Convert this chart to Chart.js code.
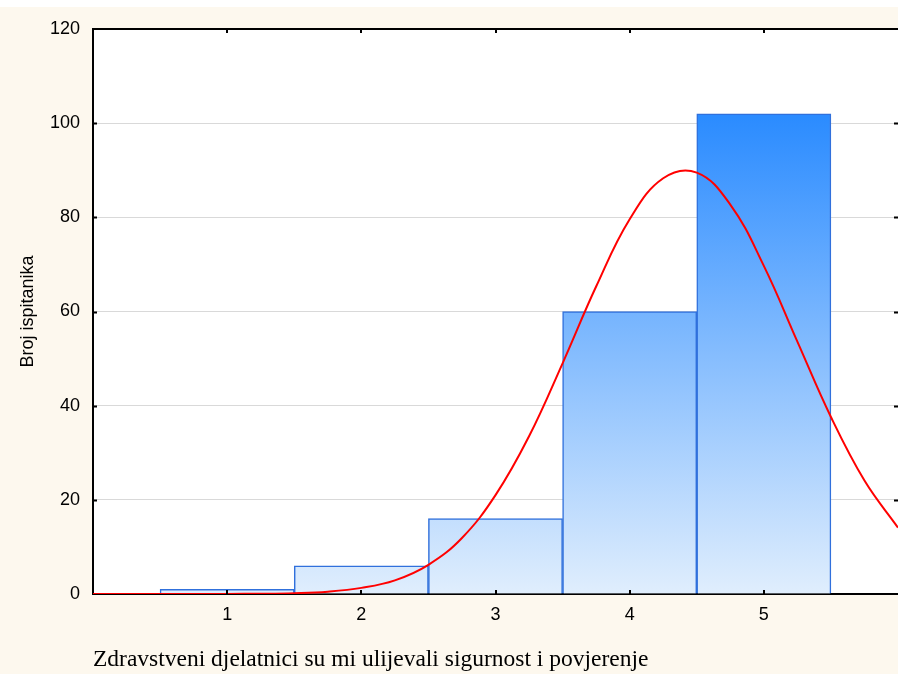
<!DOCTYPE html>
<html>
<head>
<meta charset="utf-8">
<script src="https://cdn.jsdelivr.net/npm/chart.js@4/dist/chart.umd.min.js"></script>
<style>
html,body{margin:0;padding:0;background:#fff;}
#wrap{width:898px;height:674px;}
</style>
</head>
<body>
<div id="wrap"><canvas id="c" width="898" height="674"></canvas></div>
<script>
// Histogram categories (rating values) and counts
const categories = [1, 2, 3, 4, 5];
const counts = [1, 6, 16, 60, 102];
// Fitted normal curve (every 0.25)
const curveX = [0, 0.25, 0.5, 0.75, 1, 1.25, 1.5, 1.75, 2, 2.25, 2.5, 2.75, 3, 3.25, 3.5, 3.75, 4, 4.25, 4.5, 4.75, 5, 5.25, 5.5, 5.75, 6];
const curveY = [0, 0, 0, 0, 0.02, 0.06, 0.18, 0.5, 1.3, 2.9, 6.2, 11.9, 21, 33.5, 49, 65.3, 79.6, 88.3, 89.5, 82.7, 69.7, 53.6, 37.6, 24.1, 14.1];
const yTicks = [0, 20, 40, 60, 80, 100, 120];
const xTickLabels = ['1', '2', '3', '4', '5'];
const xTitle = 'Zdravstveni djelatnici su mi ulijevali sigurnost i povjerenje';
const yTitle = 'Broj ispitanika';

const barData = categories.map((c, i) => ({x: c, y: counts[i]}));
const lineData = curveX.map((x, i) => ({x: x, y: curveY[i]}));

const bgPlugin = {
  id: 'bg',
  beforeDraw(chart) {
    const {ctx, chartArea: a, width, height} = chart;
    ctx.save();
    ctx.fillStyle = '#ffffff';
    ctx.fillRect(0, 0, width, height);
    ctx.fillStyle = '#fdf8ee';
    ctx.fillRect(0, 7, width, height - 7);
    ctx.fillStyle = '#ffffff';
    ctx.fillRect(a.left, a.top, a.right - a.left, a.bottom - a.top);
    ctx.restore();
  }
};

const framePlugin = {
  id: 'frame',
  afterDatasetsDraw(chart) {
    const {ctx, chartArea: a, scales: {x, y}} = chart;
    ctx.save();
    ctx.strokeStyle = '#000';
    ctx.lineWidth = 2;
    ctx.beginPath();
    ctx.moveTo(a.left - 1, a.top);
    ctx.lineTo(a.right, a.top);
    ctx.stroke();
    ctx.lineWidth = 2;
    ctx.beginPath();
    yTicks.forEach(v => {
      if (v === 0 || v === 120) return;
      const py = Math.round(y.getPixelForValue(v)) + 0.5;
      ctx.moveTo(a.left, py); ctx.lineTo(a.left + 4, py);
      ctx.moveTo(a.right - 4, py); ctx.lineTo(a.right, py);
    });
    categories.forEach(c => {
      const px = Math.round(x.getPixelForValue(c));
      ctx.moveTo(px, a.bottom); ctx.lineTo(px, a.bottom - 4);
      ctx.moveTo(px, a.top); ctx.lineTo(px, a.top + 4);
    });
    ctx.stroke();
    ctx.restore();
  }
};

function barGradient(context) {
  const chart = context.chart;
  const a = chart.chartArea;
  if (!a) return '#7fb8ff';
  const y = chart.scales.y;
  const g = chart.ctx.createLinearGradient(0, y.getPixelForValue(0), 0, y.getPixelForValue(102));
  g.addColorStop(0, '#e0eefd');
  g.addColorStop(1, '#2a8bff');
  return g;
}

new Chart(document.getElementById('c'), {
  type: 'bar',
  data: {
    datasets: [
      {
        type: 'line',
        data: lineData,
        borderColor: '#ff0000',
        borderWidth: 2,
        pointRadius: 0,
        fill: false,
        tension: 0.4,
        order: 0
      },
      {
        type: 'bar',
        data: barData,
        backgroundColor: barGradient,
        borderColor: '#3070dc',
        borderWidth: 1.5,
        borderSkipped: 'bottom',
        barPercentage: 1,
        categoryPercentage: 1,
        order: 1
      }
    ]
  },
  options: {
    responsive: false,
    animation: false,
    devicePixelRatio: 1,
    layout: {padding: {top: 29, right: 0, left: 0, bottom: 0}},
    plugins: {legend: {display: false}, tooltip: {enabled: false}},
    scales: {
      x: {
        type: 'linear',
        min: 0, max: 6,
        offset: false,
        grid: {display: false, offset: false, drawTicks: false},
        border: {display: true, color: '#000', width: 2},
        ticks: {
          stepSize: 1,
          padding: 10,
          color: '#000',
          font: {family: 'Liberation Sans, Arial', size: 18},
          maxRotation: 0,
          callback: (v) => { const i = categories.indexOf(v); return i >= 0 ? xTickLabels[i] : ''; }
        },
        title: {
          display: true,
          text: xTitle,
          align: 'start',
          color: '#000',
          font: {family: 'Liberation Serif, Times New Roman', size: 23.5},
          padding: {top: 0, bottom: 0}
        },
        afterFit: (s) => { s.height = 80; s.paddingRight = 0; s.paddingLeft = 0; }
      },
      y: {
        type: 'linear',
        min: 0, max: 120,
        grid: {
          drawTicks: false,
          color: (c) => (c.tick && (c.tick.value === 0 || c.tick.value === 120)) ? 'rgba(0,0,0,0)' : '#d9d9d9',
          lineWidth: 1
        },
        border: {display: true, color: '#000', width: 2},
        afterBuildTicks: (s) => { s.ticks = yTicks.map(v => ({value: v})); },
        ticks: {
          padding: 13,
          color: '#000',
          font: {family: 'Liberation Sans, Arial', size: 18}
        },
        title: {
          display: true,
          text: yTitle,
          color: '#000',
          font: {family: 'Liberation Sans, Arial', size: 18},
          padding: {top: 17, bottom: 0}
        },
        afterFit: (s) => { s.width = 93; }
      }
    }
  },
  plugins: [bgPlugin, framePlugin]
});
</script>
</body>
</html>
